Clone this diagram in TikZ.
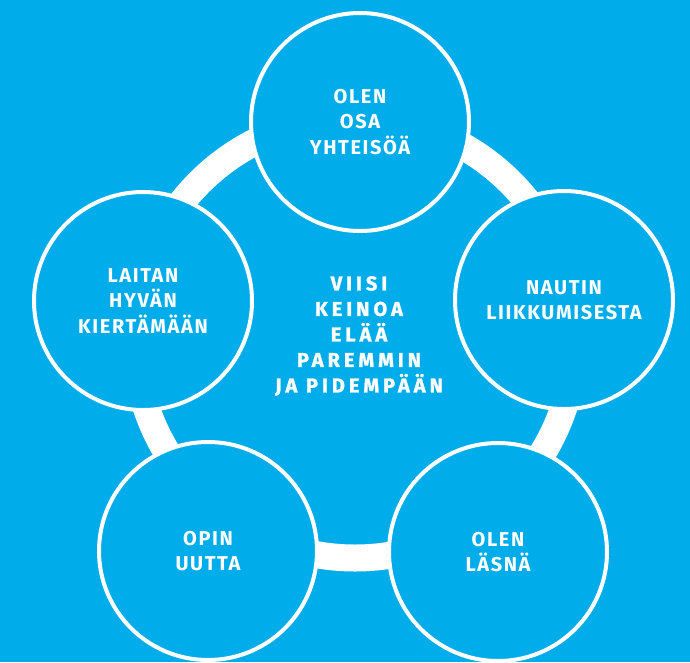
\documentclass[tikz,border=0pt]{standalone}
\usepackage{fontspec}
\newfontfamily\teemafont{Fira Sans}[LetterSpace=8]
\newfontfamily\keinofont{Fira Sans}[LetterSpace=20, BoldFeatures={FakeBold=1.2}]
\usepackage{tikz}
\definecolor{taustasin}{RGB}{0,173,234}

\tikzset{
  teema/.style={circle, draw=white, line width=4pt, fill=taustasin, minimum size=218pt,
    inner sep=0pt, text=white, align=center, font=\teemafont\bfseries\fontsize{20}{25.5}\selectfont},
  keskus/.style={text=white, align=center, font=\keinofont\bfseries\fontsize{20}{25.5}\selectfont}
}

\begin{document}
\begin{tikzpicture}[x=1pt,y=-1pt]

\fill[taustasin] (0,0) rectangle (690,662);
\useasboundingbox (0,0) rectangle (690,662);
\draw[white, line width=27pt] (355,338) circle (220pt);

\node[teema] (yhteiso) at (360,122) {OLEN\\OSA\\YHTEISÖÄ};
\node[teema] (liikunta) at (564,300) {NAUTIN\\LIIKKUMISESTA};
\node[teema] (lasna) at (498,552) {OLEN\\LÄSNÄ};
\node[teema] (uutta) at (208,551) {OPIN\\UUTTA};
\node[teema] (hyva) at (143,301) {LAITAN\\HYVÄN\\KIERTÄMÄÄN};

\node[keskus] (keinot) at (359,336) {VIISI\\KEINOA\\ELÄÄ\\PAREMMIN\\JA PIDEMPÄÄN};

\end{tikzpicture}
\end{document}
